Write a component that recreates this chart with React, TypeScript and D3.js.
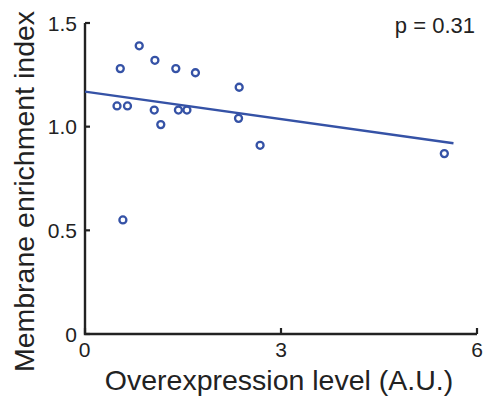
import React from "react";
import * as d3 from "d3";

const overexpression = [0.54, 0.83, 1.07, 1.39, 1.69, 0.49, 0.65, 1.06, 1.16, 1.43, 1.56, 2.36, 2.35, 2.68, 0.58, 5.5];
const enrichment = [1.28, 1.39, 1.32, 1.28, 1.26, 1.1, 1.1, 1.08, 1.01, 1.08, 1.08, 1.19, 1.04, 0.91, 0.55, 0.87];
const fitX = [0, 5.64];
const fitY = [1.169, 0.92];
const xTicks = [0, 3, 6];
const xTickLabels = ["0", "3", "6"];
const yTicks = [0, 0.5, 1.0, 1.5];
const yTickLabels = ["0", "0.5", "1.0", "1.5"];
const pLabel = "p = 0.31";
const xTitle = "Overexpression level (A.U.)";
const yTitle = "Membrane enrichment index";

const W = 484;
const H = 402;
const BLUE = "#3552a6";
const AXIS = "#222";
const FONT = "'Liberation Sans', Arial, Helvetica, sans-serif";

export default function App() {
  const x = d3.scaleLinear().domain([0, 6]).range([85, 477]);
  const y = d3.scaleLinear().domain([0, 1.5]).range([334, 23]);
  const line = d3
    .line<number>()
    .x((_, i) => x(fitX[i]))
    .y((d) => y(d));
  const x0 = x(0);
  const y0 = y(0);
  return (
    <svg
      width={W}
      height={H}
      style={{ position: "absolute", left: 0, top: 0, background: "#fff" }}
      fontFamily={FONT}
    >
      {/* axes */}
      <path
        d={`M${x0},${y(1.5)}V${y0}H${x(6)}`}
        fill="none"
        stroke={AXIS}
        strokeWidth={2.4}
      />
      {yTicks.map((t, i) => (
        <g key={"y" + i}>
          <line x1={x0} x2={x0 + 5} y1={y(t)} y2={y(t)} stroke={AXIS} strokeWidth={2.2} />
          <text
            x={77}
            y={y(t) + 7.5}
            textAnchor="end"
            fontSize={21}
            fill="#222"
          >
            {yTickLabels[i]}
          </text>
        </g>
      ))}
      {xTicks.map((t, i) => (
        <g key={"x" + i}>
          <line x1={x(t)} x2={x(t)} y1={y0} y2={y0 - 6} stroke={AXIS} strokeWidth={2.2} />
          <text x={x(t) - (i === 0 ? 0.5 : 0)} y={357} textAnchor="middle" fontSize={21} fill="#222">
            {xTickLabels[i]}
          </text>
        </g>
      ))}
      {/* fit line */}
      <path d={line(fitY) || ""} fill="none" stroke={BLUE} strokeWidth={2.4} />
      {/* points */}
      {overexpression.map((v, i) => (
        <circle
          key={"p" + i}
          cx={x(v)}
          cy={y(enrichment[i])}
          r={3.5}
          fill="#fff"
          stroke={BLUE}
          strokeWidth={2.3}
        />
      ))}
      <text x={475} y={33} textAnchor="end" fontSize={22} fill="#222">
        {pLabel}
      </text>
      <text x={279} y={390} textAnchor="middle" fontSize={28.5} fill="#222">
        {xTitle}
      </text>
      <text
        transform={`translate(33.5,191.5) rotate(-90)`}
        textAnchor="middle"
        fontSize={28.5}
        fill="#222"
      >
        {yTitle}
      </text>
    </svg>
  );
}
